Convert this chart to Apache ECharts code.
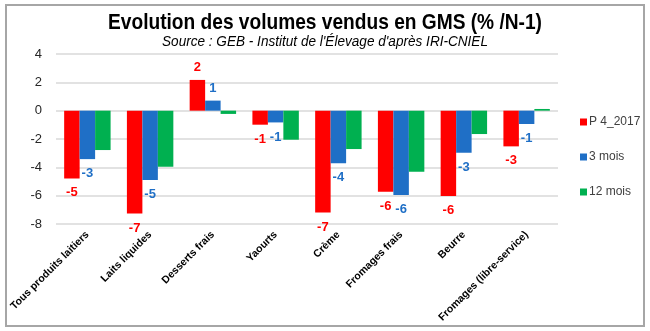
<!DOCTYPE html>
<html>
<head>
<meta charset="utf-8">
<script src="https://cdn.jsdelivr.net/npm/echarts@6/dist/echarts.min.js"></script>
<style>
  html, body { margin: 0; padding: 0; background: #fff; }
  #chart { width: 650px; height: 331px; }
</style>
</head>
<body>
<div id="chart"></div>
<script>
// Catégories de produits laitiers
const categories = [
  'Tous produits laitiers', 'Laits liquides', 'Desserts frais', 'Yaourts',
  'Crème', 'Fromages frais', 'Beurre', 'Fromages (libre-service)'
];
// Évolution des volumes (% /N-1)
const p4_2017 = [-4.78, -7.26, 2.17, -0.99, -7.19, -5.72, -6.03, -2.52];
const mois3   = [-3.42, -4.90, 0.71, -0.83, -3.72, -5.96, -2.97, -0.94];
const mois12  = [-2.78, -3.96, -0.23, -2.05, -2.71, -4.31, -1.65, 0.12];
const seriesNames = ['P 4_2017', '3 mois', '12 mois'];
const yTicks = [-8, -6, -4, -2, 0, 2, 4];
const titleText = 'Evolution des volumes vendus en GMS (% /N-1)';
const subtitleText = "Source : GEB - Institut de l'Élevage d'après IRI-CNIEL";

const RED = '#ff0000', BLUE = '#1f6fc6', GREEN = '#00b050';
const FONT = '"Liberation Sans", Arial, sans-serif';

function withLabels(values, color) {
  return values.map(v => ({
    value: v,
    label: {
      show: true,
      position: v >= 0 ? 'top' : 'bottom',
      distance: v >= 0 ? 6 : 8,
      color: color,
      fontFamily: FONT,
      fontWeight: 'bold',
      fontSize: 13,
      formatter: p => String(Math.round(p.value))
    }
  }));
}

const chart = echarts.init(document.getElementById('chart'), null, { renderer: 'canvas' });
chart.setOption({
  animation: false,
  backgroundColor: '#fff',
  graphic: [
    {
      type: 'rect',
      shape: { x: 6, y: 5, width: 638, height: 321 },
      style: { fill: 'none', stroke: '#a6a6a6', lineWidth: 2 },
      silent: true
    },
    {
      // condensed bold heading
      type: 'text', x: 325, y: 23, scaleX: 0.87, silent: true,
      style: {
        text: titleText, align: 'center', verticalAlign: 'middle',
        font: 'bold 22px ' + FONT, fill: '#000'
      }
    },
    {
      type: 'text', x: 325, y: 42, scaleX: 0.97, silent: true,
      style: {
        text: subtitleText, align: 'center', verticalAlign: 'middle',
        font: 'italic 14px ' + FONT, fill: '#000'
      }
    }
  ],
  legend: {
    orient: 'vertical',
    left: 575, top: 111,
    itemWidth: 7, itemHeight: 7, itemGap: 23,
    icon: 'rect',
    data: seriesNames,
    textStyle: { fontFamily: FONT, fontSize: 12, color: '#404040', padding: [0, 0, 0, -3] }
  },
  grid: { left: 56, right: 92, top: 54, bottom: 107, containLabel: false, outerBoundsMode: 'none' },
  xAxis: {
    type: 'category',
    data: categories,
    axisLine: { show: false },
    axisTick: { show: false },
    axisLabel: {
      interval: 0, rotate: 45, margin: 9,
      fontFamily: FONT, fontWeight: 'bold', fontSize: 10.5, color: '#000'
    }
  },
  yAxis: {
    type: 'value',
    min: yTicks[0], max: yTicks[yTicks.length - 1], interval: 2,
    axisLine: { show: false },
    axisTick: { show: false },
    axisLabel: { fontFamily: FONT, fontSize: 13, color: '#262626', margin: 14 },
    splitLine: { lineStyle: { color: '#d9d9d9', width: 1.5 } }
  },
  series: [
    { name: seriesNames[0], type: 'bar', data: withLabels(p4_2017, RED),
      itemStyle: { color: RED }, barGap: '0%', barCategoryGap: '26%' },
    { name: seriesNames[1], type: 'bar', data: withLabels(mois3, BLUE),
      itemStyle: { color: BLUE }, barGap: '0%', barCategoryGap: '26%' },
    { name: seriesNames[2], type: 'bar', data: mois12,
      itemStyle: { color: GREEN }, barGap: '0%', barCategoryGap: '26%' }
  ]
});
</script>
</body>
</html>
